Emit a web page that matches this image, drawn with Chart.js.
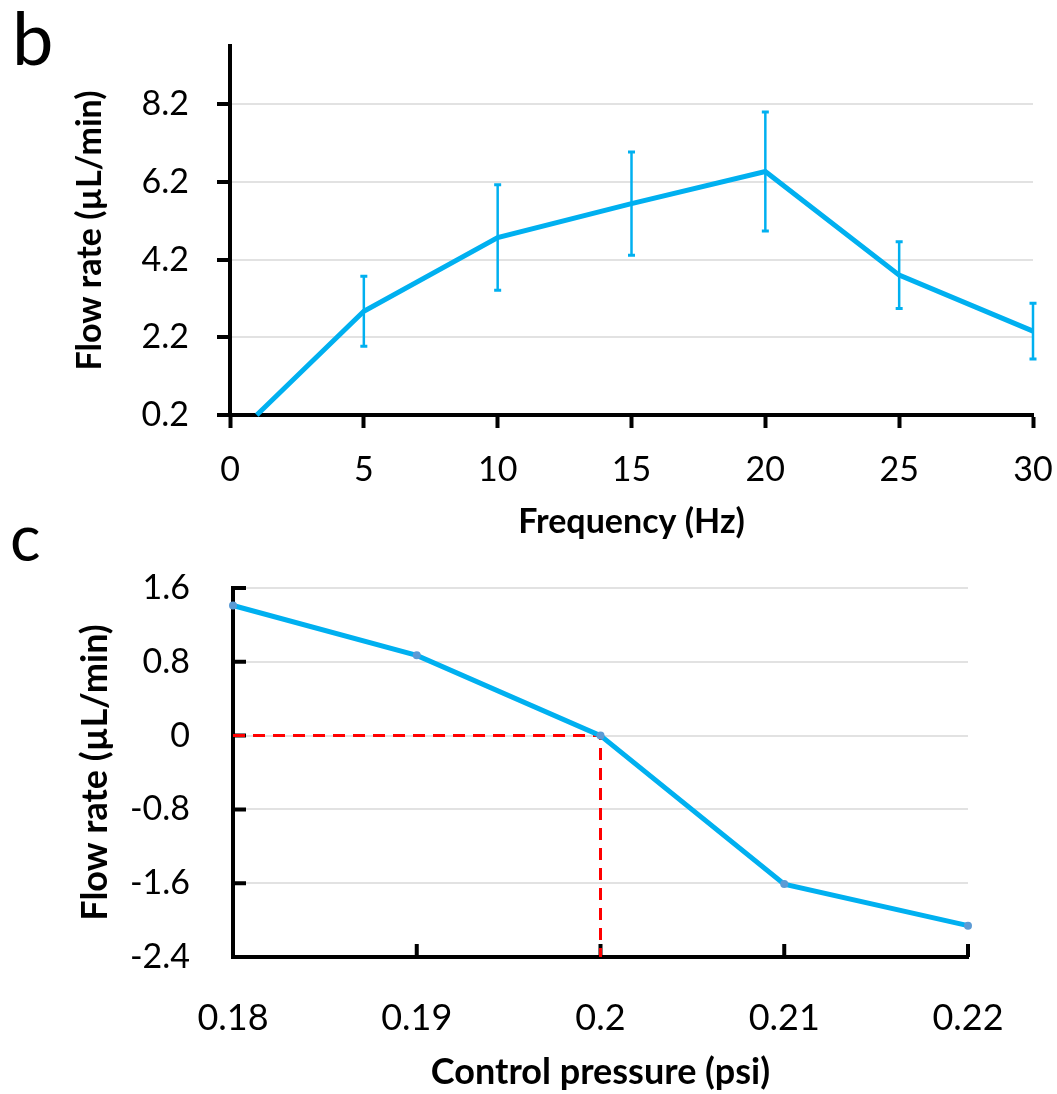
<!DOCTYPE html>
<html>
<head>
<meta charset="utf-8">
<script src="https://cdn.jsdelivr.net/npm/chart.js@4.4.1/dist/chart.umd.min.js"></script>
<style>
html, body { margin: 0; padding: 0; background: #fff; }
#wrap { position: relative; width: 1057px; height: 1094px; overflow: hidden; font-family: Lato, sans-serif; }
canvas { position: absolute; left: 0; }
#chartB { top: 0; width: 1057px; height: 548px; }
#chartC { top: 548px; width: 1057px; height: 546px; }
.panel { position: absolute; line-height: 1; color: #000; }
</style>
</head>
<body>
<div id="wrap">
  <canvas id="chartB" width="1057" height="548"></canvas>
  <canvas id="chartC" width="1057" height="546"></canvas>
  <div class="panel" style="left:12px; top:0px; font-size:74px;">b</div>
  <div class="panel" style="left:10px; top:505px; font-size:64px;">c</div>
</div>
<script>
// panel b: flow rate vs actuation frequency (mean ± error)
const freqHz = [1, 5, 10, 15, 20, 25, 30];
const flowByFreq = [0.2, 2.87, 4.77, 5.64, 6.47, 3.8, 2.36];
const flowErr = [0, 0.9, 1.36, 1.33, 1.53, 0.86, 0.72];
const freqTicks = [0, 5, 10, 15, 20, 25, 30];
const flowTicksB = [0.2, 2.2, 4.2, 6.2, 8.2];

// panel c: flow rate vs control pressure
const pressurePsi = [0.18, 0.19, 0.2, 0.21, 0.22];
const flowByPressure = [1.41, 0.87, 0, -1.61, -2.06];
const pressureTicks = [0.18, 0.19, 0.2, 0.21, 0.22];
const flowTicksC = [-2.4, -1.6, -0.8, 0, 0.8, 1.6];
const zeroFlowPsi = 0.2;   // pressure where the flow stops
const zeroFlow = 0;

const lineBlue = '#00b0f0';
const markerBlue = '#5b9bd5';
const gridGray = '#e2e2e2';

Chart.defaults.font.family = 'Lato, sans-serif';
Chart.defaults.color = '#000';

// vertical error bars with small caps
const errorBars = {
  id: 'errorBars',
  afterDatasetsDraw(chart) {
    const { ctx, scales: { x, y } } = chart;
    ctx.save();
    ctx.strokeStyle = lineBlue;
    freqHz.forEach((f, i) => {
      const e = flowErr[i];
      if (!e) return;
      const px = x.getPixelForValue(f);
      const top = y.getPixelForValue(flowByFreq[i] + e);
      const bot = y.getPixelForValue(flowByFreq[i] - e);
      ctx.lineWidth = 2.5;
      ctx.beginPath();
      ctx.moveTo(px, top);
      ctx.lineTo(px, bot);
      ctx.stroke();
      ctx.lineWidth = 3;
      ctx.beginPath();
      ctx.moveTo(px - 3.5, top); ctx.lineTo(px + 3.5, top);
      ctx.moveTo(px - 3.5, bot); ctx.lineTo(px + 3.5, bot);
      ctx.stroke();
    });
    ctx.restore();
  }
};

// tick marks pointing into the plot (panel c)
const innerTicks = {
  id: 'innerTicks',
  beforeDatasetsDraw(chart) {
    const { ctx, chartArea: a, scales: { x, y } } = chart;
    ctx.save();
    ctx.strokeStyle = '#000';
    ctx.lineWidth = 4;
    ctx.beginPath();
    y.ticks.forEach(t => {
      const py = y.getPixelForValue(t.value);
      ctx.moveTo(a.left, py);
      ctx.lineTo(a.left + 13, py);
    });
    x.ticks.forEach(t => {
      const px = x.getPixelForValue(t.value);
      ctx.moveTo(px, a.bottom);
      ctx.lineTo(px, a.bottom - 13);
    });
    ctx.stroke();
    ctx.restore();
  }
};

const fixedTicks = arr => scale => { scale.ticks = arr.map(v => ({ value: v })); };

// pin the box size and drop the label overflow padding so layout.padding decides the plot edges
const fitX = h => s => { s.height = h; s.paddingLeft = 0; s.paddingRight = 0; };
const fitY = w => s => { s.width = w; s.paddingTop = 0; s.paddingBottom = 0; };

new Chart(document.getElementById('chartB'), {
  type: 'line',
  data: {
    datasets: [{
      data: freqHz.map((f, i) => ({ x: f, y: flowByFreq[i] })),
      borderColor: lineBlue,
      borderWidth: 5,
      pointRadius: 0,
      tension: 0,
      clip: false
    }]
  },
  options: {
    responsive: false,
    animation: false,
    layout: { padding: { top: 46, right: 24, left: 0, bottom: 0 } },
    plugins: { legend: { display: false }, tooltip: { enabled: false } },
    scales: {
      x: {
        type: 'linear', min: 0, max: 30,
        afterBuildTicks: fixedTicks(freqTicks),
        afterFit: fitX(133),
        grid: { drawOnChartArea: false, tickLength: 13, tickWidth: 4, tickColor: '#000' },
        border: { color: '#000', width: 4 },
        ticks: { padding: 22, font: { size: 34 }, maxRotation: 0, autoSkip: false },
        title: { display: true, text: 'Frequency (Hz)', font: { size: 34, weight: 'bold' }, padding: { top: 0, bottom: 6 } }
      },
      y: {
        type: 'linear', min: 0.2, max: 9.7,
        afterBuildTicks: fixedTicks(flowTicksB),
        afterFit: fitY(230),
        grid: { color: gridGray, lineWidth: 2, tickLength: 13, tickWidth: 4, tickColor: '#000' },
        border: { color: '#000', width: 4 },
        ticks: { padding: 28, font: { size: 34 }, callback: v => v.toFixed(1) },
        title: { display: true, text: 'Flow rate (µL/min)', font: { size: 34, weight: 'bold' }, padding: { top: 70, bottom: 0 } }
      }
    }
  },
  plugins: [errorBars]
});

new Chart(document.getElementById('chartC'), {
  type: 'line',
  data: {
    datasets: [
      {
        data: pressurePsi.map((p, i) => ({ x: p, y: flowByPressure[i] })),
        borderColor: lineBlue,
        borderWidth: 5,
        pointRadius: 4,
        pointBackgroundColor: markerBlue,
        pointBorderWidth: 0,
        tension: 0,
        order: 0,
        clip: false
      },
      {
        // dashed guide to the zero-flow pressure
        data: [
          { x: pressurePsi[0], y: zeroFlow },
          { x: zeroFlowPsi, y: zeroFlow },
          { x: zeroFlowPsi, y: flowTicksC[0] }
        ],
        borderColor: '#ff0000',
        borderWidth: 3,
        borderDash: [12, 8],
        pointRadius: 0,
        tension: 0,
        order: 1,
        clip: false
      }
    ]
  },
  options: {
    responsive: false,
    animation: false,
    layout: { padding: { top: 40, right: 89, left: 0, bottom: 0 } },
    plugins: { legend: { display: false }, tooltip: { enabled: false } },
    scales: {
      x: {
        type: 'linear', min: 0.18, max: 0.22,
        afterBuildTicks: fixedTicks(pressureTicks),
        afterFit: fitX(137),
        grid: { drawOnChartArea: false, drawTicks: false },
        border: { color: '#000', width: 4 },
        ticks: { padding: 40, font: { size: 36 }, maxRotation: 0, autoSkip: false, callback: v => String(+v.toFixed(2)) },
        title: { display: true, text: 'Control pressure (psi)', font: { size: 36, weight: 'bold' }, padding: { top: 0, bottom: 0 } }
      },
      y: {
        type: 'linear', min: -2.4, max: 1.6,
        afterBuildTicks: fixedTicks(flowTicksC),
        afterFit: fitY(233),
        grid: { color: gridGray, lineWidth: 2, drawTicks: false },
        border: { color: '#000', width: 4 },
        ticks: { padding: 43, font: { size: 34 }, callback: v => Math.abs(v) < 1e-9 ? '0' : v.toFixed(1) },
        title: { display: true, text: 'Flow rate (µL/min)', font: { size: 36, weight: 'bold' }, padding: { top: 74, bottom: 0 } }
      }
    }
  },
  plugins: [innerTicks]
});
</script>
</body>
</html>
